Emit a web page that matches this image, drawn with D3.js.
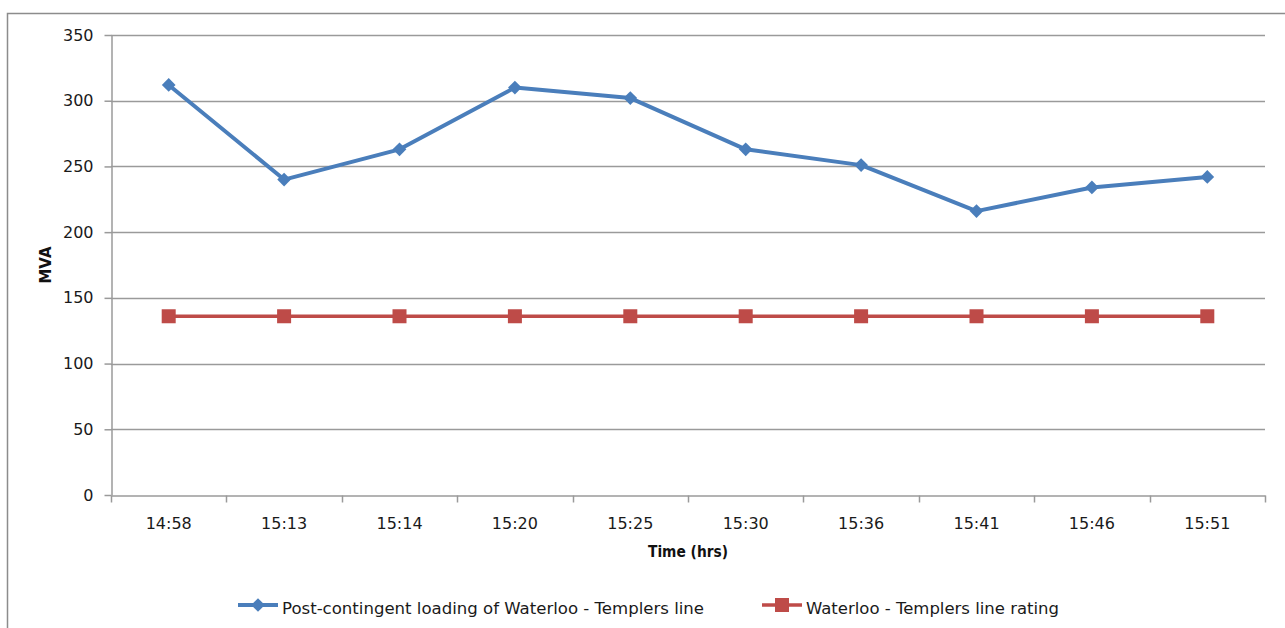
<!DOCTYPE html>
<html>
<head>
<meta charset="utf-8">
<script src="https://cdn.jsdelivr.net/npm/d3@7"></script>
<style>
  html, body { margin: 0; padding: 0; background: #fff; }
  svg { display: block; }
</style>
</head>
<body>
<svg id="chart" width="1285" height="628"></svg>
<script>
// Time stamps of each sample
const times = ["14:58", "15:13", "15:14", "15:20", "15:25", "15:30", "15:36", "15:41", "15:46", "15:51"];
// Post-contingent loading (MVA)
const loading = [312, 240, 263, 310, 302, 263, 251, 216, 234, 242];
// Line rating (MVA)
const rating = [136, 136, 136, 136, 136, 136, 136, 136, 136, 136];
const yTicks = [0, 50, 100, 150, 200, 250, 300, 350];
const seriesNames = ["Post-contingent loading of Waterloo - Templers line", "Waterloo - Templers line rating"];

const blue = "#4a7ebb", red = "#be4b48", grid = "#9a9a9a";
const font = "DejaVu Sans, Verdana, sans-serif";

const svg = d3.select("#chart");
const W = 1285, H = 628;
const m = { left: 111, top: 35, right: 1265, bottom: 495 };

// Chart area frame
svg.append("path")
  .attr("d", `M7.5,${H} V13.5 H${W}`)
  .attr("fill", "none").attr("stroke", "#8c8c8c").attr("stroke-width", 1.5);

const x = d3.scaleBand().domain(times).range([m.left, m.right]).padding(0);
const y = d3.scaleLinear().domain([0, 350]).range([m.bottom, m.top]);

// Horizontal gridlines
svg.append("g").selectAll("line").data(yTicks.filter(d => d > 0)).join("line")
  .attr("x1", m.left).attr("x2", m.right)
  .attr("y1", d => Math.round(y(d)) + 0.5).attr("y2", d => Math.round(y(d)) + 0.5)
  .attr("stroke", grid).attr("stroke-width", 1.5);

// Y axis
const yAxis = svg.append("g").attr("transform", `translate(${m.left + 0.5},0)`)
  .call(d3.axisLeft(y).tickValues(yTicks).tickSize(7).tickPadding(11).tickSizeOuter(0));
yAxis.select(".domain").attr("stroke", grid).attr("stroke-width", 1.5);
yAxis.selectAll(".tick line").attr("stroke", grid).attr("stroke-width", 1.5);
yAxis.selectAll(".tick text").attr("font-family", font).attr("font-size", 16).attr("fill", "#1a1a1a");

// X axis with ticks on category boundaries
const xAxis = svg.append("g").attr("transform", `translate(0,${m.bottom + 0.5})`)
  .call(d3.axisBottom(x).tickSize(0).tickPadding(22));
xAxis.select(".domain").attr("stroke", grid).attr("stroke-width", 1.5);
xAxis.selectAll(".tick text").attr("font-family", font).attr("font-size", 16).attr("fill", "#1a1a1a");
const bounds = times.map(t => x(t)).concat([m.right]);
xAxis.selectAll(".bound").data(bounds).join("line").attr("class", "bound")
  .attr("x1", d => Math.round(d) + 0.5).attr("x2", d => Math.round(d) + 0.5)
  .attr("y1", 0).attr("y2", 7)
  .attr("stroke", grid).attr("stroke-width", 1.5);

// Axis titles
svg.append("text").attr("x", (m.left + m.right) / 2).attr("y", 557)
  .attr("text-anchor", "middle").attr("font-family", font).attr("font-size", 15)
  .attr("font-weight", "bold").attr("fill", "#111")
  .attr("textLength", 80).attr("lengthAdjust", "spacingAndGlyphs").text("Time (hrs)");
svg.append("text").attr("transform", `translate(51,${(m.top + m.bottom) / 2}) rotate(-90)`)
  .attr("text-anchor", "middle").attr("font-family", font).attr("font-size", 15)
  .attr("font-weight", "bold").attr("fill", "#111").text("MVA");

const cx = t => x(t) + x.bandwidth() / 2;
const line = d3.line().x(d => cx(d.t)).y(d => y(d.v));

const loadData = times.map((t, i) => ({ t, v: loading[i] }));
const rateData = times.map((t, i) => ({ t, v: rating[i] }));

const diamond = d3.symbol().type(d3.symbolDiamond2).size(120);

// Rating series
svg.append("path").datum(rateData).attr("d", line)
  .attr("fill", "none").attr("stroke", red).attr("stroke-width", 3.5);
svg.append("g").selectAll("rect").data(rateData).join("rect")
  .attr("x", d => cx(d.t) - 7).attr("y", d => y(d.v) - 7)
  .attr("width", 14).attr("height", 14).attr("fill", red);

// Loading series
svg.append("path").datum(loadData).attr("d", line)
  .attr("fill", "none").attr("stroke", blue).attr("stroke-width", 4)
  .attr("stroke-linejoin", "round");
svg.append("g").selectAll("path").data(loadData).join("path")
  .attr("transform", d => `translate(${cx(d.t)},${y(d.v)})`)
  .attr("d", diamond).attr("fill", blue);

// Legend
const legend = [
  { name: seriesNames[0], color: blue, x0: 238, w: 422, shape: "diamond" },
  { name: seriesNames[1], color: red, x0: 762, w: 253, shape: "square" }
];
const ly = 605;
legend.forEach(l => {
  const g = svg.append("g");
  g.append("line").attr("x1", l.x0).attr("x2", l.x0 + 40).attr("y1", ly).attr("y2", ly)
    .attr("stroke", l.color).attr("stroke-width", l.shape === "diamond" ? 4 : 3.5);
  if (l.shape === "diamond") {
    g.append("path").attr("transform", `translate(${l.x0 + 20},${ly})`).attr("d", diamond).attr("fill", l.color);
  } else {
    g.append("rect").attr("x", l.x0 + 13).attr("y", ly - 7).attr("width", 14).attr("height", 14).attr("fill", l.color);
  }
  g.append("text").attr("x", l.x0 + 44).attr("y", 614)
    .attr("font-family", font).attr("font-size", 16).attr("fill", "#1a1a1a")
    .attr("textLength", l.w).attr("lengthAdjust", "spacingAndGlyphs")
    .text(l.name);
});
</script>
</body>
</html>
